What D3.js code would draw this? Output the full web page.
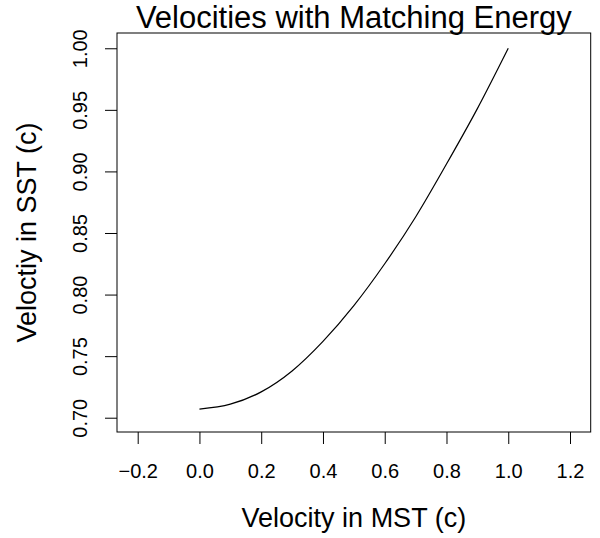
<!DOCTYPE html>
<html>
<head>
<meta charset="utf-8">
<script src="https://cdn.jsdelivr.net/npm/d3@7"></script>
<style>
  body { margin: 0; background: #fff; }
  svg { font-family: "Liberation Sans", Arial, sans-serif; }
</style>
</head>
<body>
<svg id="chart" width="600" height="538"></svg>
<script>
// values
let mstVel = [0.0, 0.1, 0.2, 0.3, 0.4, 0.5, 0.6, 0.7, 0.8, 0.9, 1.0];
let sstVel = [0.707, 0.711, 0.721, 0.738, 0.762, 0.791, 0.825, 0.863, 0.906, 0.951, 1.000];

let xTicks = [-0.2, 0.0, 0.2, 0.4, 0.6, 0.8, 1.0, 1.2];
let yTicks = [0.70, 0.75, 0.80, 0.85, 0.90, 0.95, 1.00];

let titleText = "Velocities with Matching Energy";
let xLabel = "Velocity in MST (c)";
let yLabel = "Veloctiy in SST (c)";

// plot box
let box = {left: 117, right: 590.7, top: 33, bottom: 432};

let svg = d3.select("#chart");

let x = d3.scaleLinear()
    .domain([-0.267, 1.267])
    .range([box.left, box.right]);

let y = d3.scaleLinear()
    .domain([0.6884, 1.0124])
    .range([box.bottom, box.top]);

// x axis
let xAxis = d3.axisBottom(x)
    .tickValues(xTicks)
    .tickFormat(d3.format(".1f"))
    .tickSizeInner(12)
    .tickSizeOuter(0)
    .tickPadding(20);

let gx = svg.append("g")
    .attr("transform", "translate(0," + box.bottom + ")")
    .call(xAxis);
gx.select(".domain").remove();
gx.selectAll("text").attr("font-size", 20).attr("fill", "#000").attr("font-family", null);
gx.selectAll("line").attr("stroke", "#000");

// y axis, labels turned like R does
let yAxis = d3.axisLeft(y)
    .tickValues(yTicks)
    .tickFormat(d3.format(".2f"))
    .tickSizeInner(12)
    .tickSizeOuter(0);

let gy = svg.append("g")
    .attr("transform", "translate(" + box.left + ",0)")
    .call(yAxis);
gy.select(".domain").remove();
gy.selectAll("line").attr("stroke", "#000");
gy.selectAll("text")
    .attr("font-size", 20)
    .attr("fill", "#000")
    .attr("font-family", null)
    .attr("transform", "rotate(-90)")
    .attr("x", 0)
    .attr("y", -30)
    .attr("dy", null)
    .attr("text-anchor", "middle");

// box
svg.append("rect")
    .attr("x", box.left)
    .attr("y", box.top)
    .attr("width", box.right - box.left)
    .attr("height", box.bottom - box.top)
    .attr("fill", "none")
    .attr("stroke", "#000")
    .attr("stroke-width", 1);

// the curve
let line = d3.line()
    .x(function(d, i) { return x(mstVel[i]); })
    .y(function(d, i) { return y(sstVel[i]); })
    .curve(d3.curveMonotoneX);

svg.append("path")
    .datum(sstVel)
    .attr("d", line)
    .attr("fill", "none")
    .attr("stroke", "#000")
    .attr("stroke-width", 1.2);

// title and labels
let midX = (box.left + box.right) / 2;
let midY = (box.top + box.bottom) / 2;

svg.append("text")
    .attr("x", midX)
    .attr("y", 28)
    .attr("text-anchor", "middle")
    .attr("font-size", 31)
    .text(titleText);

svg.append("text")
    .attr("x", midX)
    .attr("y", 527)
    .attr("text-anchor", "middle")
    .attr("font-size", 27)
    .text(xLabel);

svg.append("text")
    .attr("transform", "translate(36," + midY + ") rotate(-90)")
    .attr("text-anchor", "middle")
    .attr("font-size", 27)
    .text(yLabel);
</script>
</body>
</html>
